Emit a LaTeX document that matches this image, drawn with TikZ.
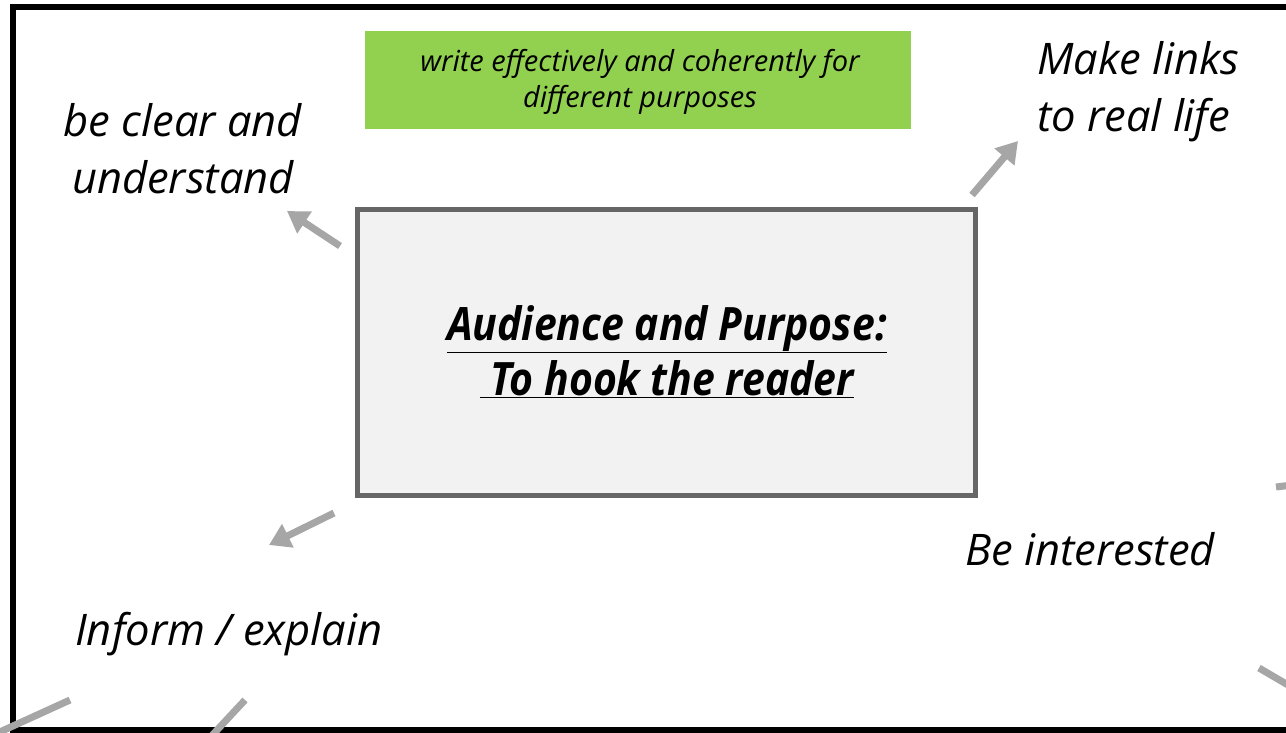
\documentclass[tikz,border=0pt]{standalone}
\usepackage{fontspec}
\setmainfont{Open Sans}
\usetikzlibrary{arrows.meta}
\definecolor{framegray}{HTML}{666666}
\definecolor{boxfill}{HTML}{F2F2F2}
\definecolor{leafgreen}{HTML}{92D050}
\definecolor{arrowgray}{HTML}{A6A6A6}
\tikzset{
  bigtext/.style={font=\fontsize{43.5}{57}\selectfont\itshape, inner sep=0pt, align=center},
  conn/.style={draw=arrowgray, line width=7pt, -{Triangle[width=25pt,length=21pt]}},
  stub/.style={draw=arrowgray, line width=7pt},
}
\begin{document}
\begin{tikzpicture}[x=1pt,y=-1pt]
\useasboundingbox (0,0) rectangle (1286,732);
\clip (0,0) rectangle (1286,732);
\fill[white] (0,0) rectangle (1286,732);
% frame
\draw[line width=6pt] (13,7) rectangle (1320,730);
% green box
\node[fill=leafgreen, minimum width=546pt, minimum height=98pt, inner sep=0pt] (goal) at (638,80) {};
\node[inner sep=0pt, align=center, anchor=base, font=\fontsize{29}{36}\selectfont\itshape] (goaltext) at (640,107)
  {write effectively and coherently for\\different purposes};
% centre box
\node[draw=framegray, line width=5pt, fill=boxfill, minimum width=618pt, minimum height=286pt, inner sep=0pt] (centre) at (666,352) {};
\node[inner sep=0pt, align=center, anchor=base, font=\fontsize{46}{55}\selectfont\bfseries\itshape] (title) at (667,395)
  {\scalebox{0.89}[1]{\underline{Audience and Purpose:}}\\\scalebox{0.89}[1]{\underline{\ To hook the reader}}};
% texts
\node[bigtext, anchor=base] (clear) at (183,193) {be clear and\\understand};
\node[bigtext, anchor=base west, align=left] (links) at (1037,131) {Make links\\to real life};
\node[bigtext, anchor=base west] (inform) at (75,645) {Inform / explain};
\node[bigtext, anchor=base west] (interest) at (965,565) {Be interested};
% arrows
\coordinate (a1s) at (340,246); \coordinate (a1e) at (287,211);
\coordinate (a2s) at (972,195); \coordinate (a2e) at (1018,141);
\coordinate (a3s) at (334,513); \coordinate (a3e) at (269,545);
\draw[conn] (a1s) -- (a1e);
\draw[conn] (a2s) -- (a2e);
\draw[conn] (a3s) -- (a3e);
% stubs of arrows leaving the picture
\coordinate (s1a) at (70,700); \coordinate (s1b) at (-20,741);
\coordinate (s2a) at (245,700); \coordinate (s2b) at (205,743);
\coordinate (s3a) at (1276,487); \coordinate (s3b) at (1300,484);
\coordinate (s4a) at (1259,668); \coordinate (s4b) at (1300,692);
\draw[stub] (s1a) -- (s1b);
\draw[stub] (s2a) -- (s2b);
\draw[stub] (s3a) -- (s3b);
\draw[stub] (s4a) -- (s4b);
\end{tikzpicture}
\end{document}
